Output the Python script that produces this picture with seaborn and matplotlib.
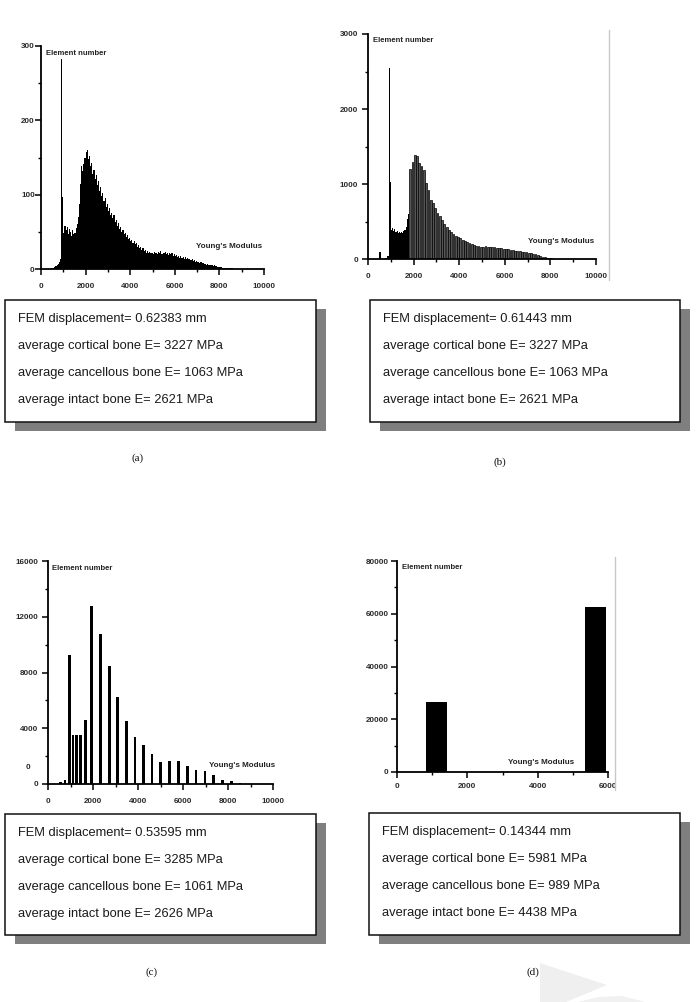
import numpy as np
import pandas as pd
import matplotlib
matplotlib.use("Agg")
import matplotlib.pyplot as plt
from matplotlib.patches import Rectangle, Polygon
from matplotlib.lines import Line2D
from matplotlib import font_manager
import seaborn as sns

sns.set_theme(style="white")
plt.rcParams['font.family'] = ['Liberation Sans', 'DejaVu Sans']

# ---------------- data ----------------
# (a) histogram, bins of 50 MPa starting at 450
a_first_bin = 450
a_bin_width = 50
a_counts = [1, 1, 2, 3, 4, 5, 7, 10, 14,
            282, 97,
            48, 58, 52, 56, 47, 54, 50, 45, 52, 47, 49, 55, 60, 70, 88, 115,
            138, 132, 141, 150, 158, 160, 148, 152, 138, 142, 128, 133, 121, 126,
            113, 118, 105, 110, 98, 102, 91, 96, 84, 88, 78, 82, 73, 76, 68, 72,
            63, 66, 58, 62, 54, 57, 50, 53, 47, 49, 43, 46, 40, 42, 37, 39, 35, 37,
            33, 35, 30, 32, 28, 30, 26, 28, 24, 26, 22, 24, 21, 23, 21, 22,
            20, 23, 21, 22, 20, 23, 21, 24, 20, 22, 21, 23, 20, 22, 19, 22, 20, 21,
            18, 20, 17, 19, 16, 18, 15, 17, 15, 16, 14, 16, 13, 15, 13, 14, 12, 13,
            11, 12, 10, 11, 9, 10, 8, 9, 8, 8, 7, 7, 6, 7, 6, 6, 5, 5, 4, 5, 4, 4,
            3, 3, 3, 3, 2, 2, 2, 2, 1, 1, 1, 1, 1, 1, 0.5, 0.5, 0.5]

# (b) black part (bins of 50 from 500) and grey part (bins of 100 from 1800)
b_black_first = 500
b_black_width = 50
b_black_counts = [97, 0, 0, 0, 5, 10, 20, 44, 2543, 1031,
                  390, 410, 370, 400, 355, 380, 350, 360, 345, 365, 350, 372,
                  390, 430, 529, 600]
b_grey_first = 1800
b_grey_width = 100
b_grey_counts = [1203, 1300, 1389, 1367, 1278, 1234, 1189, 1012, 923, 790,
                 746, 679, 612, 568, 524, 470, 426, 390, 359, 333,
                 311, 293, 275, 257, 244, 226, 213, 200, 186, 177,
                 169, 165, 160, 168, 158, 162, 155, 158, 150, 152,
                 145, 140, 133, 128, 122, 118, 112, 108, 104, 100,
                 95, 90, 85, 78, 72, 62, 55, 40, 30, 22,
                 15, 10, 8, 5, 4, 3, 2, 2]

# (c) discrete bars
c_modulus = [563, 756, 963, 1111, 1274, 1437, 1674, 1926, 2326, 2726, 3081,
             3481, 3867, 4252, 4622, 5007, 5407, 5793, 6193, 6578, 6978,
             7363, 7763, 8148, 8533]
c_counts = [170, 260, 9290, 3500, 3500, 3500, 4570, 12790, 10730, 8455, 6275,
            4500, 3350, 2830, 2130, 1605, 1675, 1630, 1290, 1030, 935,
            670, 290, 190, 50]
c_bar_width = 120

# (d) two bars
d_left = [813, 5358]
d_right = [1418, 5953]
d_counts = [26400, 62690]

boxes = {
    "a": ["FEM displacement= 0.62383 mm", "average cortical bone E= 3227 MPa",
          "average cancellous bone E= 1063 MPa", "average intact bone E= 2621 MPa"],
    "b": ["FEM displacement= 0.61443 mm", "average cortical bone E= 3227 MPa",
          "average cancellous bone E= 1063 MPa", "average intact bone E= 2621 MPa"],
    "c": ["FEM displacement= 0.53595 mm", "average cortical bone E= 3285 MPa",
          "average cancellous bone E= 1061 MPa", "average intact bone E= 2626 MPa"],
    "d": ["FEM displacement= 0.14344 mm", "average cortical bone E= 5981 MPa",
          "average cancellous bone E= 989 MPa", "average intact bone E= 4438 MPa"],
}

# ---------------- figure ----------------
W, H = 697, 1002
fig = plt.figure(figsize=(W / 100, H / 100), dpi=100)
fig.patch.set_facecolor("white")

installed = {f.name for f in font_manager.fontManager.ttflist}
if "Liberation Sans Narrow" in installed:
    BOX_FAMILY, BOX_SIZE = ["Liberation Sans Narrow", "DejaVu Sans"], 11
else:
    BOX_FAMILY, BOX_SIZE = ["Liberation Sans", "DejaVu Sans"], 9.3


def px_axes(l, t, r, b):
    return fig.add_axes([l / W, 1 - b / H, (r - l) / W, (b - t) / H])


def hist(ax, centers, counts, edges, **kw):
    df = pd.DataFrame({"modulus": np.asarray(centers, dtype=float),
                       "count": np.asarray(counts, dtype=float)})
    sns.histplot(data=df, x="modulus", weights="count",
                 bins=[float(e) for e in edges], alpha=1, ax=ax, **kw)


TICK_COLOR = "#2a2a2a"


def style(ax, xmax, ymax, xmaj, xmin, ymaj, ymin, xlabels=None, ylabels=None,
          xpad=6, ypad=0.5):
    ax.set_xlim(0, xmax)
    ax.set_ylim(0, ymax)
    ax.set_facecolor("white")
    for s in ["top", "right"]:
        ax.spines[s].set_visible(False)
    for s in ["left", "bottom"]:
        ax.spines[s].set_linewidth(1.3)
        ax.spines[s].set_color("black")
    ax.set_xticks(xmaj)
    ax.set_xticks(xmin, minor=True)
    ax.set_yticks(ymaj)
    ax.set_yticks(ymin, minor=True)
    ax.set_xticklabels(xlabels if xlabels else [str(v) for v in xmaj])
    ax.set_yticklabels(ylabels if ylabels else [str(v) for v in ymaj])
    ax.tick_params(which="both", bottom=True, left=True, top=False, right=False,
                   direction="out", color="black")
    ax.tick_params(which="major", length=4, width=1.1, labelsize=5.8,
                   labelcolor=TICK_COLOR)
    ax.tick_params(axis="x", which="major", pad=xpad)
    ax.tick_params(axis="y", which="major", pad=ypad)
    ax.tick_params(which="minor", length=2.5, width=1)
    for lbl in ax.get_xticklabels() + ax.get_yticklabels():
        lbl.set_fontweight("bold")
    ax.set_xlabel("")
    ax.set_ylabel("")
    ax.grid(False)


def labels(ax, ex, ey, yx, yy):
    ax.text(ex, ey, "Element number", transform=ax.transAxes, fontsize=5.5,
            fontweight="bold", color="#222222", ha="left", va="center")
    ax.text(yx, yy, "Young's Modulus", transform=ax.transAxes, fontsize=5.8,
            fontweight="bold", color="#222222", ha="right", va="center")


# ---- (a)
ax_a = px_axes(41, 46, 264, 269)
a_starts = a_first_bin + a_bin_width * np.arange(len(a_counts))
a_edges = np.append(a_starts, a_starts[-1] + a_bin_width)
hist(ax_a, a_starts + a_bin_width / 2, a_counts, a_edges, color="black", linewidth=0)
style(ax_a, 10000, 300, [0, 2000, 4000, 6000, 8000, 10000],
      [1000, 3000, 5000, 7000, 9000], [0, 100, 200, 300], [50, 150, 250])
labels(ax_a, 0.022, 0.965, 0.99, 0.10)

# ---- (b)
ax_b = px_axes(368, 34, 596, 259)
bb_starts = b_black_first + b_black_width * np.arange(len(b_black_counts))
bb_edges = np.append(bb_starts, bb_starts[-1] + b_black_width)
hist(ax_b, bb_starts + b_black_width / 2, b_black_counts, bb_edges,
     color="black", linewidth=0)
bg_starts = b_grey_first + b_grey_width * np.arange(len(b_grey_counts))
bg_edges = np.append(bg_starts, bg_starts[-1] + b_grey_width)
hist(ax_b, bg_starts + b_grey_width / 2, b_grey_counts, bg_edges,
     color="#555555", linewidth=0.5, edgecolor="black", shrink=0.78)
style(ax_b, 10000, 3000, [0, 2000, 4000, 6000, 8000, 10000],
      [1000, 3000, 5000, 7000, 9000], [0, 1000, 2000, 3000],
      [500, 1500, 2500], ypad=3)
labels(ax_b, 0.022, 0.972, 0.99, 0.076)

# ---- (c)
ax_c = px_axes(48, 561, 273, 784)
c_mod = np.array(c_modulus, dtype=float)
c_edges = np.column_stack([c_mod - c_bar_width / 2, c_mod + c_bar_width / 2]).ravel()
hist(ax_c, c_mod, c_counts, c_edges, color="black", linewidth=0)
style(ax_c, 10000, 16000, [0, 2000, 4000, 6000, 8000, 10000],
      [1000, 3000, 5000, 7000, 9000], [0, 4000, 8000, 12000, 16000],
      [2000, 6000, 10000, 14000], xpad=6, ypad=3)
ax_c.text(-0.08, 1200, "0", transform=ax_c.get_yaxis_transform(), fontsize=5.8,
          fontweight="bold", color=TICK_COLOR, ha="right", va="center")
labels(ax_c, 0.02, 0.965, 1.01, 0.081)

# ---- (d)
ax_d = px_axes(397, 561, 608, 772)
d_edges = np.column_stack([d_left, d_right]).ravel()
d_centers = (np.array(d_left) + np.array(d_right)) / 2
hist(ax_d, d_centers, d_counts, d_edges, color="black", linewidth=0)
style(ax_d, 6000, 80000, [0, 2000, 4000, 6000], [1000, 3000, 5000],
      [0, 20000, 40000, 60000, 80000], [10000, 30000, 50000, 70000],
      xpad=4, ypad=2)
labels(ax_d, 0.025, 0.97, 0.84, 0.045)

# frame lines on the right of (b) and (d)
fig.add_artist(Line2D([609 / W, 609 / W], [1 - 30 / H, 1 - 280 / H],
                      color="#c8c8c8", lw=1))
fig.add_artist(Line2D([615 / W, 615 / W], [1 - 557 / H, 1 - 790 / H],
                      color="#c8c8c8", lw=1))

# ---- info boxes with shadow
box_px = {"a": (5, 300, 316, 422), "b": (370, 300, 680, 422),
          "c": (5, 814, 316, 935), "d": (369, 813, 680, 935)}
for key, (l, t, r, b) in box_px.items():
    fig.add_artist(Rectangle(((l + 10) / W, 1 - (b + 9) / H), (r - l) / W, (b - t) / H,
                             facecolor="#7f7f7f", edgecolor="none"))
    fig.add_artist(Rectangle((l / W, 1 - b / H), (r - l) / W, (b - t) / H,
                             facecolor="white", edgecolor="#111111", lw=1.1))
    for i, line in enumerate(boxes[key]):
        y = t + 19 + i * 27
        fig.text((l + 13) / W, 1 - y / H, line, fontsize=BOX_SIZE, color="#1a1a1a",
                 family=BOX_FAMILY, ha="left", va="center")

# captions
for cap, (x, y) in {"(a)": (138, 458), "(b)": (500, 462),
                    "(c)": (152, 972), "(d)": (533, 972)}.items():
    fig.text(x / W, 1 - y / H, cap, fontsize=8, family="Liberation Serif",
             ha="center", va="center", color="#111111")

# faint watermark shapes bottom-right
fig.add_artist(Polygon([(540 / W, 1 - 963 / H), (607 / W, 1 - 985 / H),
                        (566 / W, 1 - 1002 / H), (540 / W, 1 - 1002 / H)],
                       closed=True, facecolor="#efefef", edgecolor="none"))
fig.add_artist(Polygon([(578 / W, 1 - 1002 / H), (598 / W, 1 - 997 / H),
                        (622 / W, 1 - 996 / H), (645 / W, 1 - 1002 / H)],
                       closed=True, facecolor="#f1f1f1", edgecolor="none"))

fig.savefig("out.png", dpi=100, facecolor="white")
